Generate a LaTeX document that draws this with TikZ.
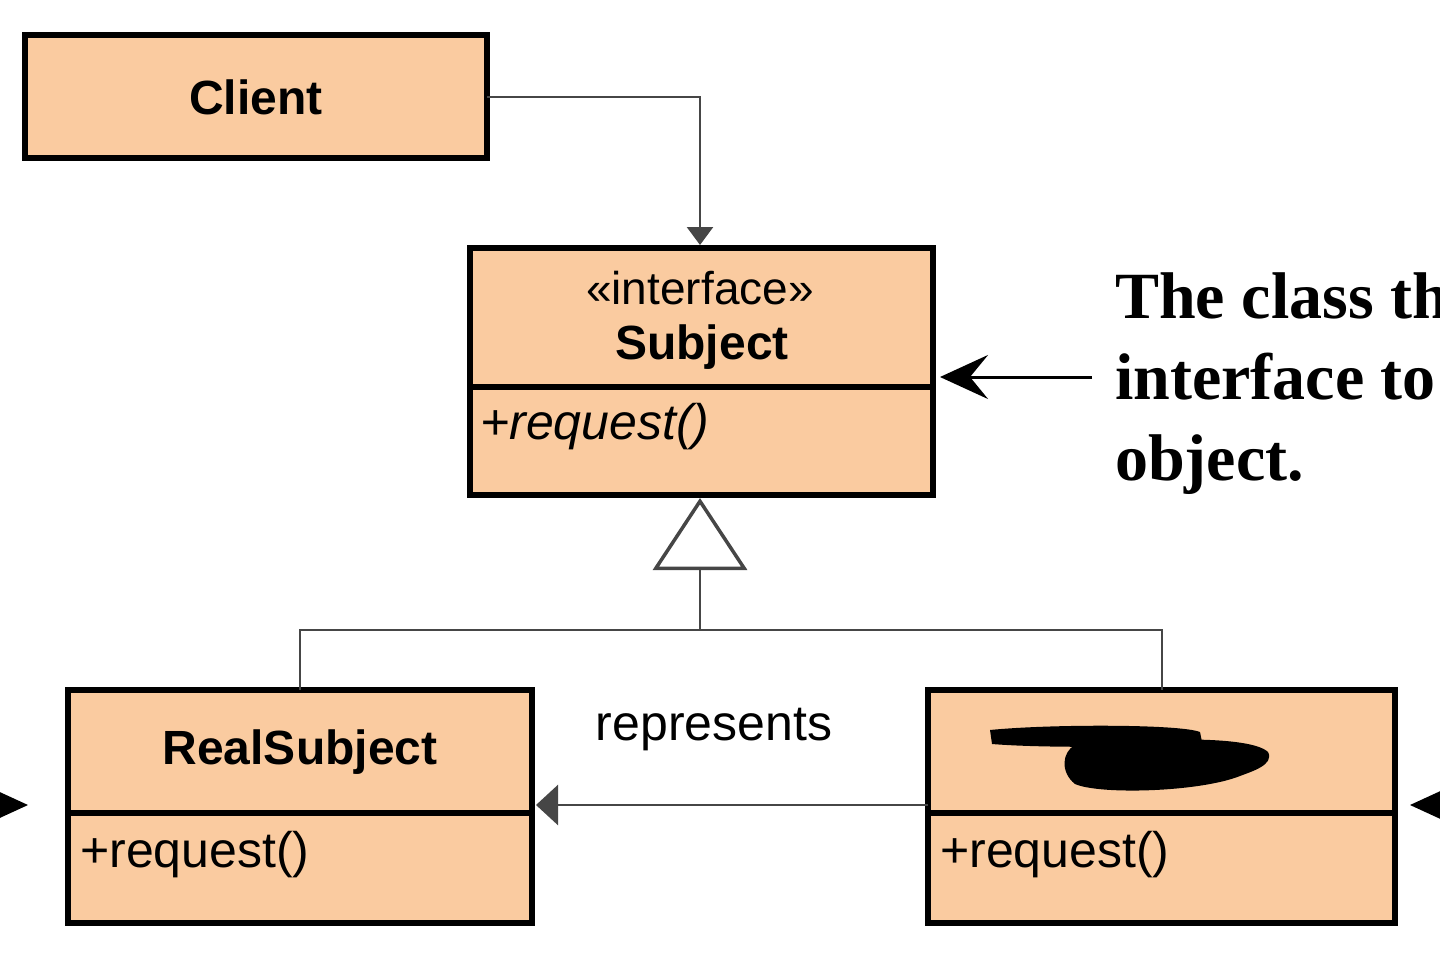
\documentclass[tikz,border=0pt]{standalone}
\usepackage{fontspec}
\setmainfont{Liberation Sans}
\newfontfamily\serifb{Liberation Serif}
\usetikzlibrary{arrows.meta}
\definecolor{boxfill}{RGB}{250,203,160}
\definecolor{ln}{RGB}{70,70,70}
\begin{document}
\begin{tikzpicture}[x=1pt,y=-1pt,
  box/.style={draw=black,line width=6pt,fill=boxfill},
  conn/.style={draw=ln,line width=2.5pt},
  lbl/.style={font=\fontsize{50}{54}\selectfont,inner sep=0pt},
  blbl/.style={font=\bfseries\fontsize{48}{54}\selectfont,inner sep=0pt},
  note/.style={font=\serifb\bfseries\fontsize{66}{81}\selectfont,align=left,anchor=north west,inner sep=0pt}]
\useasboundingbox (0,0) rectangle (1440,961);
\clip (0,0) rectangle (1440,961);
% boxes
\draw[box] (25,35) rectangle (487,158);
\node[blbl] (client) at (256,97) {Client};
\coordinate (clientR) at (487,97);
\draw[box] (470,248) rectangle (933,495);
\draw[line width=6pt] (470,387) -- (933,387);
\node[lbl,font=\fontsize{46}{50}\selectfont] (stereo) at (700,288) {«interface»};
\node[blbl] (subject) at (702,347) {Subject};
\node[lbl,font=\itshape\fontsize{50}{54}\selectfont,anchor=west] (sreq) at (480,427) {+request()};
\coordinate (subjTop) at (700,245);
\coordinate (subjBot) at (700,498);
\coordinate (subjR) at (940,377);
\draw[box] (68,690) rectangle (532,923);
\draw[line width=6pt] (68,813) -- (532,813);
\node[blbl] (real) at (300,752) {RealSubject};
\node[lbl,anchor=west] (rreq) at (80,855) {+request()};
\draw[box] (928,690) rectangle (1395,923);
\draw[line width=6pt] (928,813) -- (1395,813);
\node[lbl,anchor=west] (preq) at (940,855) {+request()};
% scribble
\fill[black] (990,730) .. controls (1050,724) and (1180,724) .. (1200,732) -- (1202,742) .. controls (1150,748) and (1040,748) .. (992,744) -- cycle;
\fill[black] (1075,745) .. controls (1150,738) and (1250,735) .. (1268,752) .. controls (1275,765) and (1250,772) .. (1240,776) .. controls (1200,792) and (1100,795) .. (1075,784) .. controls (1060,772) and (1062,752) .. cycle;
% client -> subject
\draw[conn,-{Triangle[length=18pt,width=26pt]}] (clientR) -| (subjTop);
% generalization
\coordinate (junc) at (700,630);
\draw[conn] (300,690) |- (junc) -| (1162,690);
\draw[conn,-{Triangle[open,length=72pt,width=94pt,line width=3.5pt]}] (junc) -- (subjBot);
% represents
\draw[conn,-{Triangle[length=22pt,width=40pt]}] (928,805) -- (536,805);
\node[lbl] (rep) at (714,730) {represents};
% note
\node[note] (note) at (1115,272) {The class th\\interface to\\object.};
\coordinate (noteA) at (1092,377);
\draw[line width=3pt,-{Stealth[length=48pt,width=44pt,inset=18pt]}] (noteA) -- (subjR);
% side arrows
\coordinate (la) at (-40,805);
\coordinate (lt) at (28,805);
\draw[line width=3pt,-{Stealth[length=48pt,width=44pt,inset=18pt]}] (la) -- (lt);
\coordinate (ra) at (1480,805);
\coordinate (rt) at (1410,805);
\draw[line width=3pt,-{Stealth[length=48pt,width=44pt,inset=18pt]}] (ra) -- (rt);
\end{tikzpicture}
\end{document}
